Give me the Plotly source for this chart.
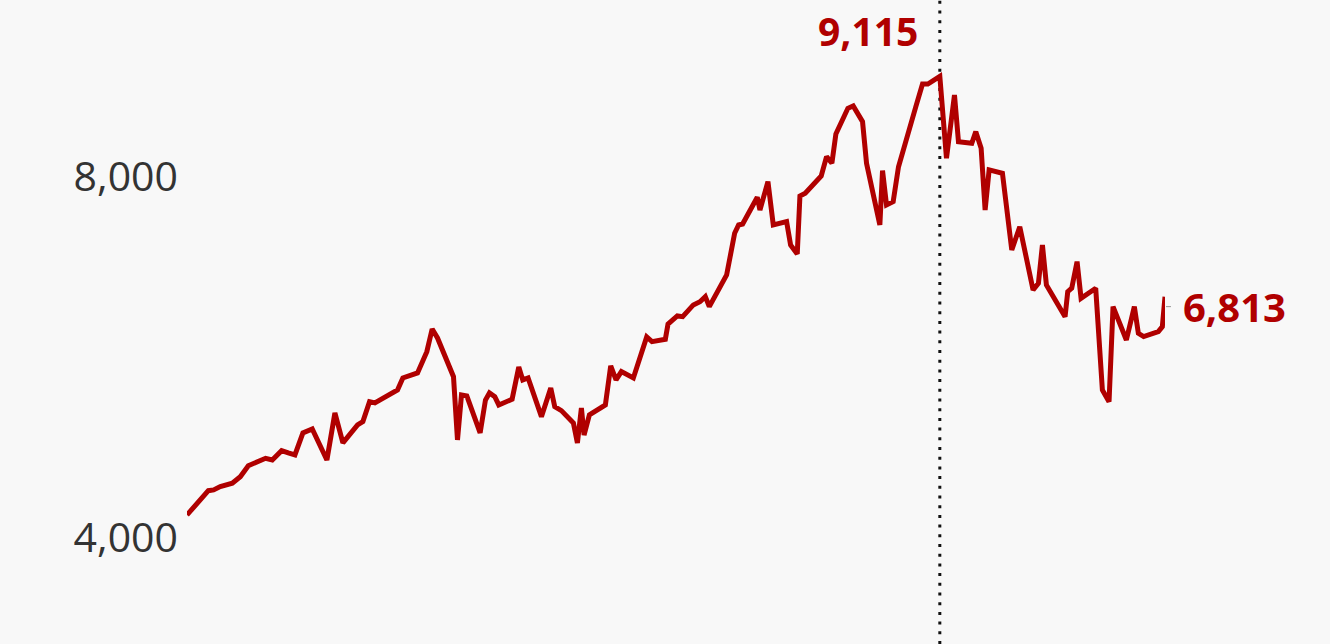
import plotly.graph_objects as go

# Day offsets from the start of the series (x axis is not labelled in the reference)
days = [0, 16, 20, 25, 34, 40, 46, 52, 59, 64, 71, 76, 81, 87, 94, 105, 111, 117, 128, 132,
        137, 141, 158, 162, 173, 180, 184, 188, 200, 203, 206, 210, 220, 224, 227, 231, 234, 244, 249, 252,
        256, 266, 273, 276, 281, 290, 293, 296, 298, 302, 314, 318, 322, 326, 335, 345, 349, 359, 361, 368,
        372, 380, 385, 389, 392, 405, 411, 414, 417, 428, 430, 436, 440, 450, 453, 458, 460, 464, 476, 480,
        484, 487, 496, 500, 507, 510, 520, 522, 525, 530, 534, 547, 552, 556, 565, 570, 576, 579, 589, 592,
        596, 599, 602, 612, 619, 625, 635, 639, 642, 645, 659, 661, 664, 668, 671, 682, 686, 687, 692, 695,
        705, 711, 714, 718, 729, 732, 734]

values = [4255, 4524, 4532, 4569, 4606, 4679, 4801, 4846, 4883, 4864, 4967, 4942, 4920, 5164, 5208, 4864, 5385, 5053, 5252, 5289,
          5510, 5496, 5640, 5773, 5828, 6064, 6316, 6216, 5787, 5086, 5585, 5573, 5164, 5529, 5607, 5566, 5474, 5537, 5895, 5751,
          5773, 5344, 5662, 5455, 5411, 5274, 5053, 5441, 5141, 5363, 5474, 5906, 5751, 5843, 5773, 6227, 6175, 6202, 6371, 6460,
          6452, 6582, 6618, 6674, 6563, 6914, 7376, 7468, 7479, 7775, 7634, 7948, 7468, 7505, 7247, 7147, 7789, 7819, 8011, 8225,
          8152, 8476, 8761, 8787, 8613, 8152, 7468, 8070, 7690, 7726, 8114, 8779, 9030, 9030, 9115, 8207, 8909, 8391, 8373, 8502,
          8318, 7634, 8078, 8041, 7191, 7449, 6748, 6822, 7247, 6803, 6452, 6729, 6767, 7062, 6656, 6767, 5972, 5640, 5510, 6563,
          6194, 6563, 6268, 6231, 6286, 6341, 6674]

tick_values = [4000, 8000]
tick_labels = ["4,000", "8,000"]

peak_label = "9,115"
last_label = "6,813"

RED = "#b00000"
BG = "#f8f8f8"

peak_i = values.index(max(values))
peak_day = days[peak_i]

fig = go.Figure()
fig.add_trace(go.Scatter(
    x=days, y=values, mode="lines",
    line=dict(color=RED, width=5),
    hoverinfo="skip", showlegend=False,
))

# Dotted vertical line at the peak
fig.add_shape(type="line", xref="x", yref="paper",
              x0=peak_day, x1=peak_day, y0=0, y1=1,
              line=dict(color="#111111", width=3, dash="3px,6.7px"), layer="below")

fig.add_annotation(x=peak_day, y=values[peak_i], text=peak_label, showarrow=False,
                   xanchor="right", yanchor="middle", xshift=-20, yshift=46,
                   font=dict(family="Open Sans", size=39, color=RED, weight=700))

fig.add_annotation(x=days[-1], y=values[-1], text=last_label, showarrow=True,
                   arrowhead=0, arrowwidth=1, arrowcolor="#999999",
                   ax=69, ay=0, standoff=1, startstandoff=10, yshift=-10,
                   xanchor="center", yanchor="middle",
                   font=dict(family="Open Sans", size=40, color=RED, weight=700))

fig.update_layout(
    width=1330, height=644,
    margin=dict(l=187, r=165, t=0, b=0),
    paper_bgcolor=BG, plot_bgcolor=BG,
    hovermode=False,
    xaxis=dict(range=[days[0], days[-1]], showgrid=False, zeroline=False,
               showticklabels=False, showline=False, ticks=""),
    yaxis=dict(range=[2825, 9961], showgrid=False, zeroline=False, showline=False,
               tickvals=tick_values, ticktext=tick_labels, ticks="",
               ticklabelstandoff=8,
               tickfont=dict(family="Open Sans", size=41, color="#333333")),
)

fig.write_html("out.html", config={"displayModeBar": False},
               post_script="document.body.style.margin='0';document.body.style.background='#f8f8f8';")
